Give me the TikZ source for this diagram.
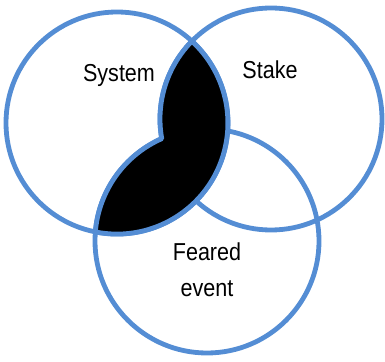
\documentclass[tikz,border=0pt]{standalone}
\usepackage{fontspec}
\usepackage{graphicx}
\setmainfont{Liberation Sans}
\usetikzlibrary{calc}
\definecolor{vblue}{RGB}{84,141,212}
\newcommand{\narrowtxt}[1]{\scalebox{0.88}[1]{#1}}
\begin{document}
\begin{tikzpicture}[x=1pt,y=1pt,
  ring/.style={draw=vblue,line width=4.8pt},
  lbl/.style={font=\fontsize{24.5}{36}\selectfont,text=black,align=center,inner sep=0pt}]
\useasboundingbox (0,0) rectangle (385,361);
\coordinate (cs) at (117,238);
\coordinate (ck) at (271,242);
\coordinate (cf) at (207,120);
\draw[ring] (cs) circle[radius=111pt];
\draw[ring] (ck) circle[radius=111pt];
\draw[ring] (cf) circle[radius=112pt];
\coordinate (T) at ($(ck)+(134.6:111pt)$);
\fill[black,draw=vblue,line width=4.8pt,line join=round]
  (T) arc[start angle=134.6,end angle=190.2,radius=111pt]
      arc[start angle=113.8,end angle=175.3,radius=112pt]
      arc[start angle=-101.2,end angle=46.8,radius=111pt] -- cycle;
\node[lbl] (sys) at (119,286) {\narrowtxt{System}};
\node[lbl] (stk) at (270,291) {\narrowtxt{Stake}};
\node[lbl] (fe) at (207,91) {\narrowtxt{Feared}\\\narrowtxt{event}};
\end{tikzpicture}
\end{document}
